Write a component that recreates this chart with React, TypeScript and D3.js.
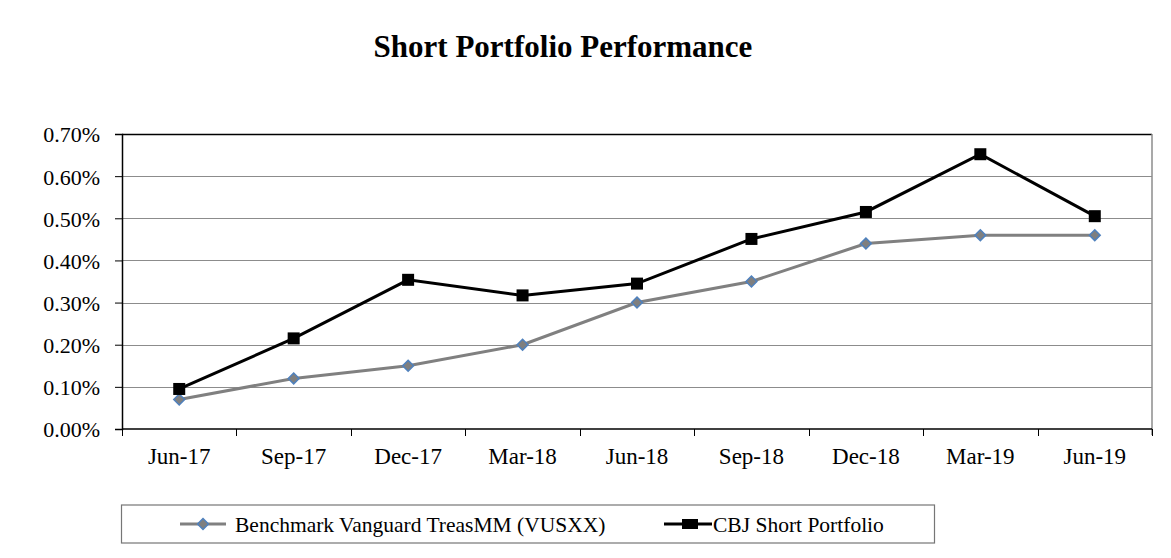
import React, { useRef, useEffect } from 'react';
import * as d3 from 'd3';

const quarters = ['Jun-17', 'Sep-17', 'Dec-17', 'Mar-18', 'Jun-18', 'Sep-18', 'Dec-18', 'Mar-19', 'Jun-19'];
const benchmark = [0.07, 0.12, 0.15, 0.2, 0.3, 0.35, 0.44, 0.46, 0.46];
const cbjShort = [0.095, 0.215, 0.354, 0.317, 0.345, 0.451, 0.515, 0.652, 0.505];
const yTicks = [0, 0.1, 0.2, 0.3, 0.4, 0.5, 0.6, 0.7];
const seriesNames = ['Benchmark Vanguard TreasMM (VUSXX)', 'CBJ Short Portfolio'];

const FONT = 'Liberation Serif, Times New Roman, serif';

const App = () => {
  const ref = useRef<HTMLDivElement>(null);

  useEffect(() => {
    if (!ref.current) return;
    d3.select(ref.current).select('svg').remove();

    const W = 1171;
    const H = 558;
    const margin = { top: 134, right: 19, bottom: 129, left: 122 };
    const width = W - margin.left - margin.right;
    const height = H - margin.top - margin.bottom;

    const svg = d3.select(ref.current)
      .append('svg')
      .attr('width', W)
      .attr('height', H)
      .attr('font-family', FONT)
      .style('display', 'block');

    svg.append('rect').attr('width', W).attr('height', H).attr('fill', '#fff');
    // outer chart frame, only top and left edges show
    svg.append('rect')
      .attr('x', 5).attr('y', 5).attr('width', 2).attr('height', H - 5)
      .attr('fill', '#6a6a6a');
    svg.append('rect')
      .attr('x', 5).attr('y', 5).attr('width', W - 5).attr('height', 2)
      .attr('fill', '#6a6a6a');

    svg.append('text')
      .attr('x', 563).attr('y', 57)
      .attr('text-anchor', 'middle')
      .attr('font-family', FONT)
      .attr('font-size', 31).attr('font-weight', 'bold')
      .text('Short Portfolio Performance');

    const g = svg.append('g').attr('transform', `translate(${margin.left},${margin.top})`);

    const x = d3.scaleBand().domain(quarters).range([0, width]);
    const y = d3.scaleLinear().domain([0, 0.7]).range([height, 0]);
    const cx = (q: string) => (x(q) as number) + x.bandwidth() / 2;

    g.selectAll('.grid')
      .data(yTicks.slice(1))
      .join('line')
      .attr('x1', 0).attr('x2', width)
      .attr('y1', d => Math.round(y(d)) + 0.5).attr('y2', d => Math.round(y(d)) + 0.5)
      .attr('stroke', '#8c8c8c').attr('stroke-width', 1);

    g.append('line').attr('x1', 0).attr('x2', width).attr('y1', 0.5).attr('y2', 0.5)
      .attr('stroke', '#000').attr('stroke-width', 1.5);
    g.append('line').attr('x1', width).attr('x2', width).attr('y1', 0).attr('y2', height + 6)
      .attr('stroke', '#8c8c8c').attr('stroke-width', 1.5);

    const yAxis = g.append('g')
      .call(d3.axisLeft(y).tickValues(yTicks).tickSize(7).tickFormat(d => `${(+d).toFixed(2)}%`));
    yAxis.attr('font-family', FONT);
    yAxis.select('.domain').attr('stroke', '#000').attr('stroke-width', 1.5);
    yAxis.selectAll('.tick line').attr('stroke', '#000');
    yAxis.selectAll('.tick text')
      .attr('x', -22).attr('dy', '0.36em').attr('font-size', 22).attr('font-family', FONT).attr('fill', '#000');

    const xAxis = g.append('g').attr('transform', `translate(0,${height})`);
    xAxis.append('line').attr('x1', 0).attr('x2', width).attr('y1', 0).attr('y2', 0)
      .attr('stroke', '#000').attr('stroke-width', 1.5);
    xAxis.selectAll('.xt')
      .data(d3.range(quarters.length + 1))
      .join('line')
      .attr('x1', i => Math.round(i * x.bandwidth()) + 0.5)
      .attr('x2', i => Math.round(i * x.bandwidth()) + 0.5)
      .attr('y1', 0).attr('y2', 7)
      .attr('stroke', '#000');
    xAxis.selectAll('.xl')
      .data(quarters)
      .join('text')
      .attr('x', d => cx(d)).attr('y', 35)
      .attr('text-anchor', 'middle').attr('font-size', 23).attr('font-family', FONT)
      .text(d => d);

    const line = d3.line<number>()
      .x((_, i) => cx(quarters[i]))
      .y(d => y(d));

    g.append('path').datum(benchmark)
      .attr('fill', 'none').attr('stroke', '#808080').attr('stroke-width', 3)
      .attr('d', line);
    g.append('path').datum(cbjShort)
      .attr('fill', 'none').attr('stroke', '#000').attr('stroke-width', 3)
      .attr('d', line);

    const diamond = d3.symbol().type(d3.symbolDiamond2).size(75);
    g.selectAll('.dm')
      .data(benchmark)
      .join('path')
      .attr('transform', (d, i) => `translate(${cx(quarters[i])},${y(d)})`)
      .attr('d', diamond)
      .attr('fill', '#7f7f7f').attr('stroke', '#4f81bd').attr('stroke-width', 1.5);
    g.selectAll('.sq')
      .data(cbjShort)
      .join('rect')
      .attr('x', (d, i) => cx(quarters[i]) - 6).attr('y', d => y(d) - 6)
      .attr('width', 12).attr('height', 12)
      .attr('fill', '#000');

    // legend
    const lg = svg.append('g');
    lg.append('rect')
      .attr('x', 121.5).attr('y', 505).attr('width', 813).attr('height', 38)
      .attr('fill', '#fff').attr('stroke', '#767676').attr('stroke-width', 1.2);
    const ly = 524;
    lg.append('line').attr('x1', 180).attr('x2', 226).attr('y1', ly).attr('y2', ly)
      .attr('stroke', '#808080').attr('stroke-width', 3);
    lg.append('path').attr('transform', `translate(203,${ly})`).attr('d', diamond)
      .attr('fill', '#7f7f7f').attr('stroke', '#4f81bd').attr('stroke-width', 1.5);
    lg.append('text').attr('x', 235).attr('y', ly + 8).attr('font-size', 21.5).attr('font-family', FONT)
      .text(seriesNames[0]);
    lg.append('line').attr('x1', 664).attr('x2', 712).attr('y1', ly).attr('y2', ly)
      .attr('stroke', '#000').attr('stroke-width', 3);
    lg.append('rect').attr('x', 682).attr('y', ly - 5).attr('width', 16).attr('height', 10).attr('fill', '#000');
    lg.append('text').attr('x', 713).attr('y', ly + 8).attr('font-size', 21.5).attr('font-family', FONT)
      .text(seriesNames[1]);
  }, []);

  return <div ref={ref} style={{ margin: -8 }}></div>;
};

export default App;
